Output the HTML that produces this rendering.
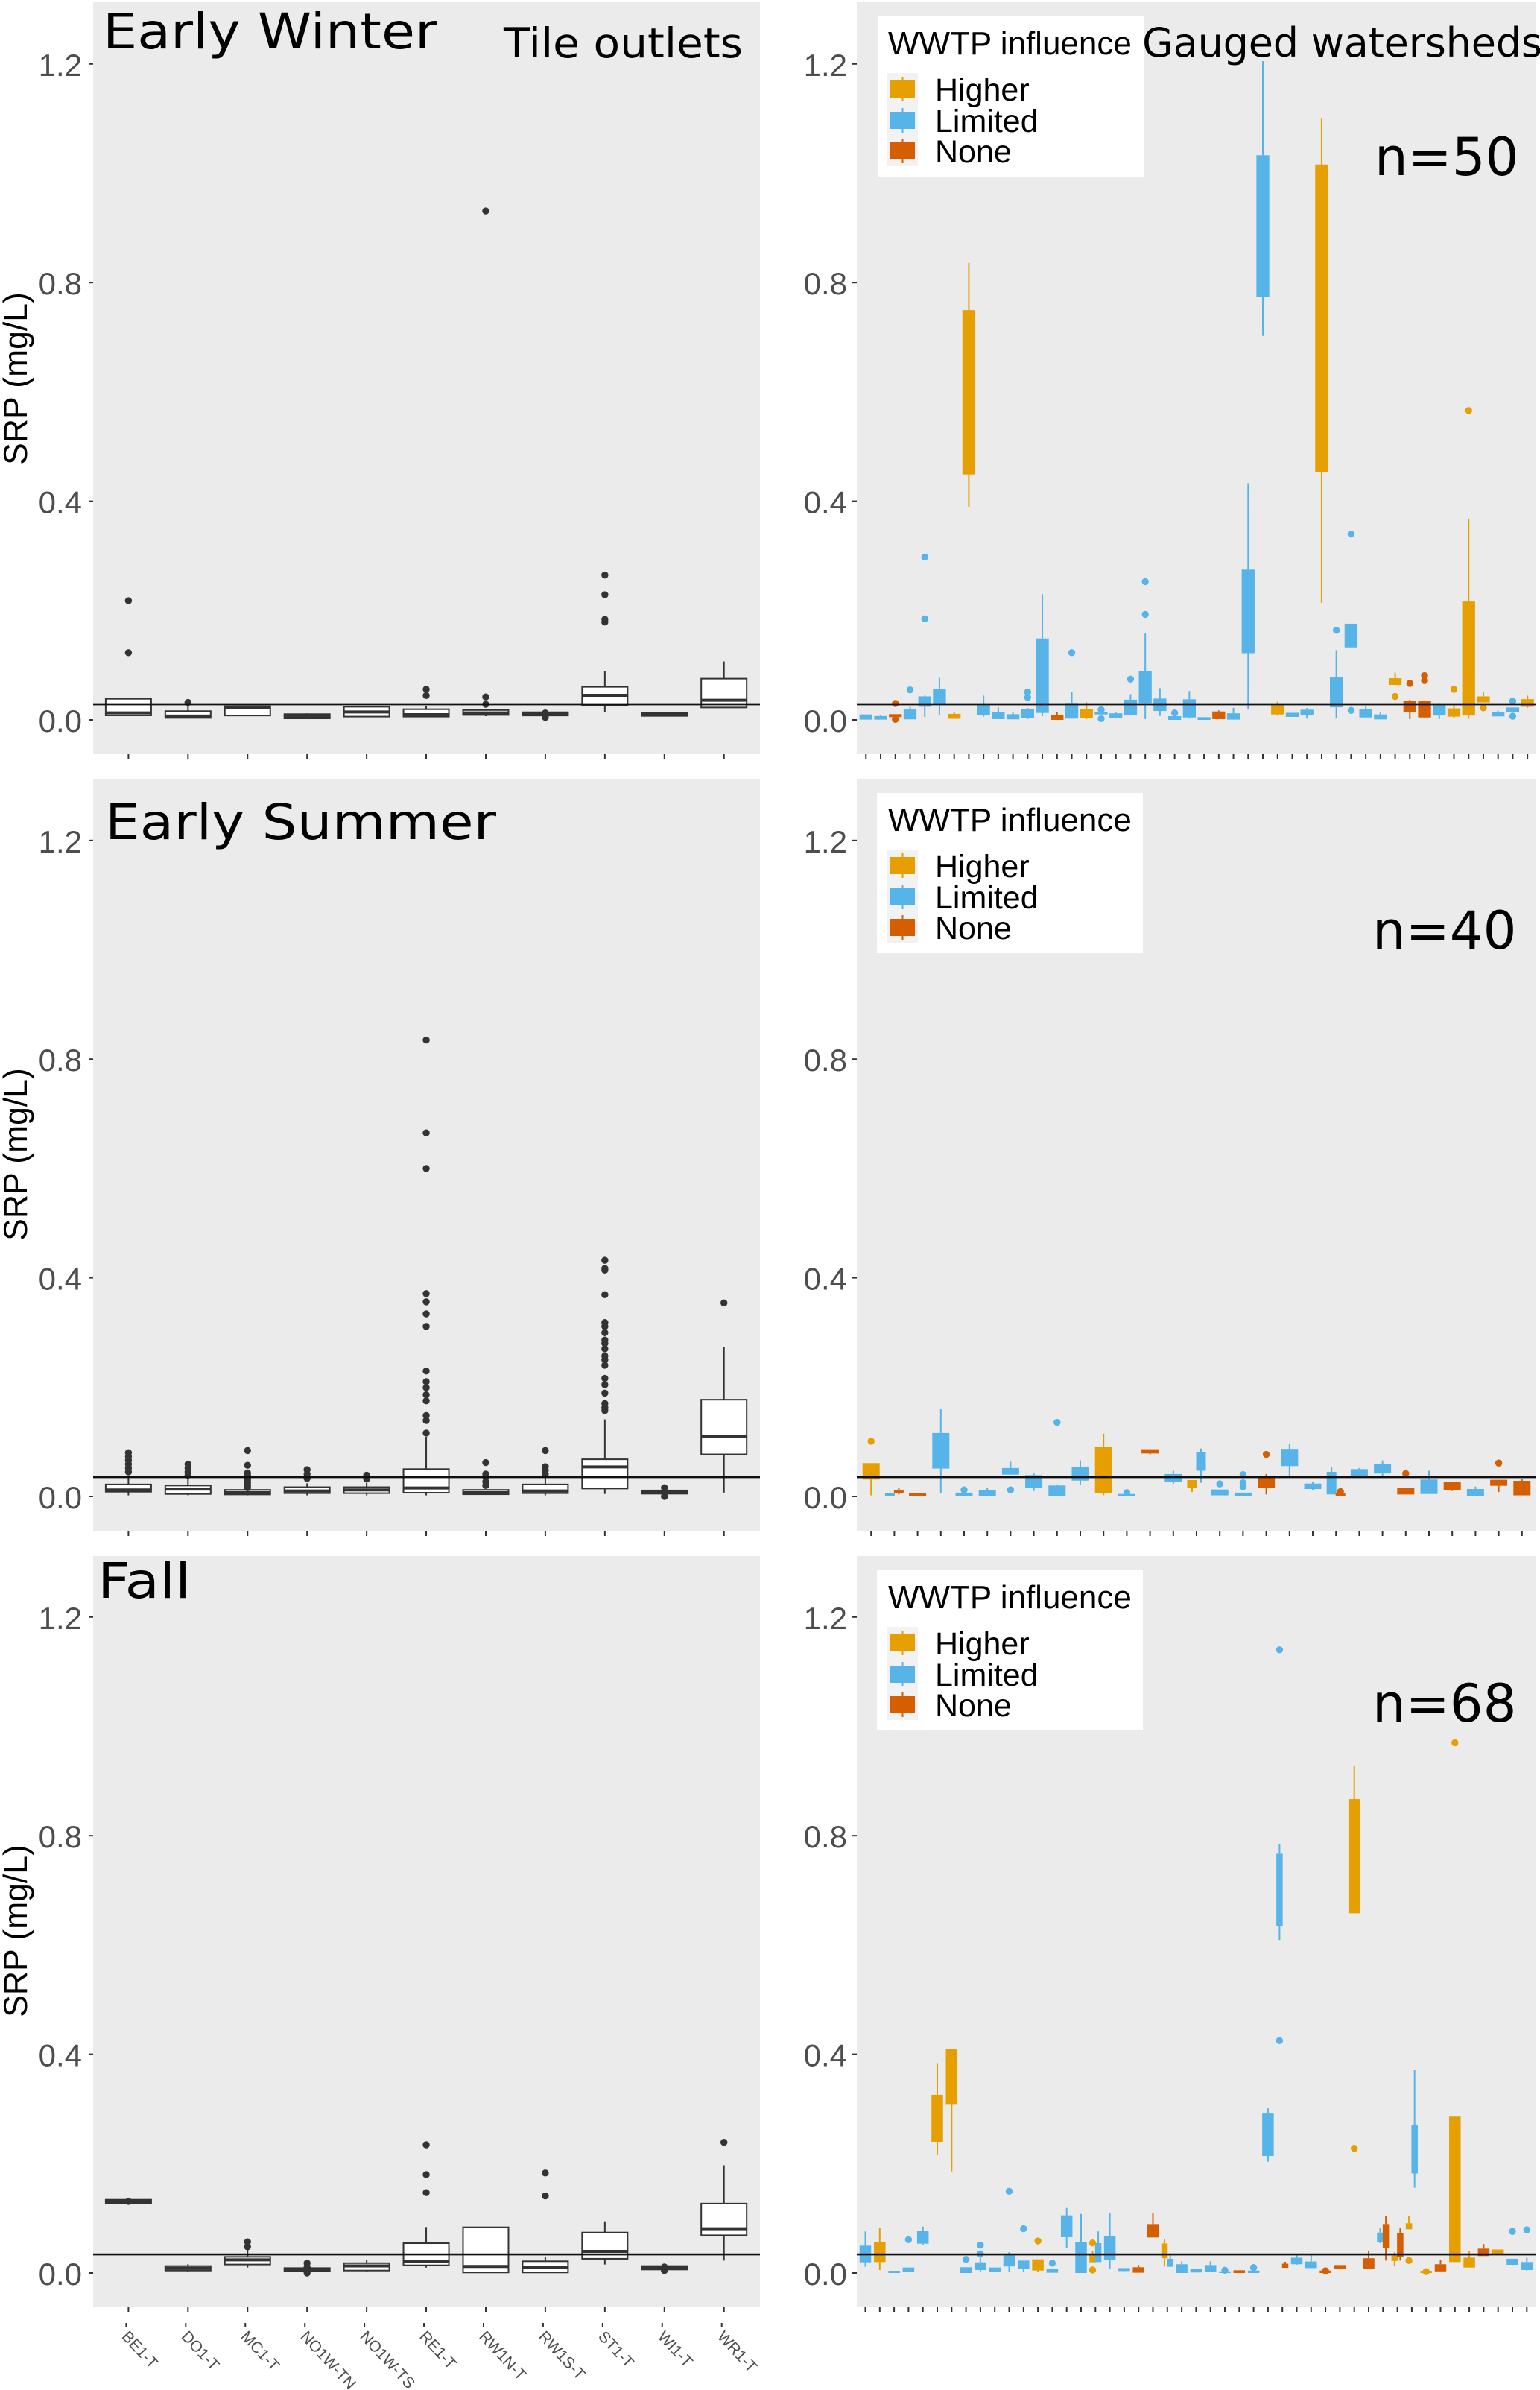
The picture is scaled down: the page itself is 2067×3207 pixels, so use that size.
<!DOCTYPE html>
<html lang="en">
<head>
<meta charset="utf-8">
<title>SRP boxplots by season</title>
<style>
html,body{margin:0;padding:0;background:#fff;}
svg{display:block;}
.tick-label{font-family:"Liberation Sans",sans-serif;font-size:42px;fill:#4d4d4d;}
.axis-title{font-family:"Liberation Sans",sans-serif;font-size:44.5px;fill:#000;}
.big{font-family:"DejaVu Sans",sans-serif;fill:#000;}
.leg{font-family:"Liberation Sans",sans-serif;font-size:43px;fill:#000;}
.leg-title{font-family:"Liberation Sans",sans-serif;font-size:44px;fill:#000;}
.site{font-family:"Liberation Sans",sans-serif;font-size:21px;fill:#4d4d4d;}
</style>
</head>
<body>
<svg id="chart" xmlns="http://www.w3.org/2000/svg" width="2067" height="3207" viewBox="0 0 2067 3207">
  <rect x="0" y="0" width="2067" height="3207" fill="#fff"/>
  <rect x="125" y="3" width="895" height="1009" fill="#ebebeb"/>
  <rect x="1150" y="3" width="912" height="1009" fill="#ebebeb"/>
  <rect x="125" y="1045" width="895" height="1009" fill="#ebebeb"/>
  <rect x="1150" y="1045" width="912" height="1009" fill="#ebebeb"/>
  <rect x="125" y="2088" width="895" height="1008" fill="#ebebeb"/>
  <rect x="1150" y="2088" width="912" height="1008" fill="#ebebeb"/>

  <g id="marks"></g>

  <text class="axis-title" transform="translate(36,508) rotate(-90)" text-anchor="middle">SRP (mg/L)</text>
  <text class="axis-title" transform="translate(36,1549) rotate(-90)" text-anchor="middle">SRP (mg/L)</text>
  <text class="axis-title" transform="translate(36,2591) rotate(-90)" text-anchor="middle">SRP (mg/L)</text>

  <text class="big" x="138" y="65" font-size="66" textLength="449" lengthAdjust="spacingAndGlyphs">Early Winter</text>
  <text class="big" x="676" y="77" font-size="55" textLength="321" lengthAdjust="spacingAndGlyphs">Tile outlets</text>
  <text class="big" x="141" y="1126" font-size="66" textLength="525" lengthAdjust="spacingAndGlyphs">Early Summer</text>
  <text class="big" x="131" y="2144" font-size="66" textLength="125" lengthAdjust="spacingAndGlyphs">Fall</text>

  <g transform="translate(0,3)">
    <rect x="1178" y="19" width="357" height="215" fill="#fff"/>
    <text class="leg-title" x="1192" y="70">WWTP influence</text>
    <rect x="1191" y="95" width="41" height="125" fill="#f2f2f2"/>
    <path d="M1211.500 100V133" stroke="#E69F00" stroke-width="2"/>
    <rect x="1195" y="105" width="33" height="23" fill="#E69F00"/>
    <text class="leg" x="1255" y="132">Higher</text>
    <path d="M1211.500 142V175" stroke="#56B4E9" stroke-width="2"/>
    <rect x="1195" y="147" width="33" height="23" fill="#56B4E9"/>
    <text class="leg" x="1255" y="174">Limited</text>
    <path d="M1211.500 183V216" stroke="#D55E00" stroke-width="2"/>
    <rect x="1195" y="188" width="33" height="23" fill="#D55E00"/>
    <text class="leg" x="1255" y="215">None</text>
  </g>
  <g transform="translate(0,1045)">
    <rect x="1177" y="19" width="357" height="215" fill="#fff"/>
    <text class="leg-title" x="1192" y="70">WWTP influence</text>
    <rect x="1191" y="95" width="41" height="125" fill="#f2f2f2"/>
    <path d="M1211.500 100V133" stroke="#E69F00" stroke-width="2"/>
    <rect x="1195" y="105" width="33" height="23" fill="#E69F00"/>
    <text class="leg" x="1255" y="132">Higher</text>
    <path d="M1211.500 142V175" stroke="#56B4E9" stroke-width="2"/>
    <rect x="1195" y="147" width="33" height="23" fill="#56B4E9"/>
    <text class="leg" x="1255" y="174">Limited</text>
    <path d="M1211.500 183V216" stroke="#D55E00" stroke-width="2"/>
    <rect x="1195" y="188" width="33" height="23" fill="#D55E00"/>
    <text class="leg" x="1255" y="215">None</text>
  </g>
  <g transform="translate(0,2088)">
    <rect x="1177" y="19" width="357" height="215" fill="#fff"/>
    <text class="leg-title" x="1192" y="70">WWTP influence</text>
    <rect x="1191" y="95" width="41" height="125" fill="#f2f2f2"/>
    <path d="M1211.500 100V133" stroke="#E69F00" stroke-width="2"/>
    <rect x="1195" y="105" width="33" height="23" fill="#E69F00"/>
    <text class="leg" x="1255" y="132">Higher</text>
    <path d="M1211.500 142V175" stroke="#56B4E9" stroke-width="2"/>
    <rect x="1195" y="147" width="33" height="23" fill="#56B4E9"/>
    <text class="leg" x="1255" y="174">Limited</text>
    <path d="M1211.500 183V216" stroke="#D55E00" stroke-width="2"/>
    <rect x="1195" y="188" width="33" height="23" fill="#D55E00"/>
    <text class="leg" x="1255" y="215">None</text>
  </g>

  <text class="big" x="1533" y="76" font-size="54" textLength="537" lengthAdjust="spacing">Gauged watersheds</text>
  <text class="big" x="1845" y="235" font-size="70.500">n=50</text>
  <text class="big" x="1842" y="1273" font-size="70.500">n=40</text>
  <text class="big" x="1842" y="2310" font-size="70.500">n=68</text>
</svg>

<script>
const n = null;

// shared axis data
const yTickValues = [0, 0.4, 0.8, 1.2];
const siteNames = ["BE1-T","DO1-T","MC1-T","NO1W-TN","NO1W-TS","RE1-T","RW1N-T","RW1S-T","ST1-T","WI1-T","WR1-T"];
const thresholds = [0.0286, 0.0354, 0.034];

// Tile outlets, Early Winter
const tileWinterQ1  = [.0082,.0036,.008,.0027,.006,.006,.009,.008,.026,.0073,.0227];
const tileWinterMed = [.0127,.007,.0227,.0064,.0145,.0095,.0127,.011,.045,.01,.036];
const tileWinterQ3  = [.0386,.016,.025,.0105,.024,.0195,.018,.014,.0605,.013,.0755];
const tileWinterLo  = [n,n,.0075,.0018,n,n,.0068,n,.015,n,n];
const tileWinterHi  = [n,.0245,n,.012,n,.025,.0205,n,.09,n,.107];
const tileWinterOut = [[0,.123],[0,.218],[1,.032],[5,.056],[5,.0445],[6,.042],[6,.0286],[6,.931],[7,.0127],[7,.0045],[8,.265],[8,.229],[8,.184],[8,.179]];

// Tile outlets, Early Summer
const tileSummerQ1  = [.0086,.0045,.0036,.006,.006,.0068,.004,.006,.0145,.005,.077];
const tileSummerMed = [.012,.0135,.007,.01,.012,.0155,.007,.01,.054,.008,.11];
const tileSummerQ3  = [.022,.02,.012,.017,.017,.05,.012,.022,.068,.011,.177];
const tileSummerLo  = [.002,.002,.002,.002,.002,.002,n,.002,.0045,n,.007];
const tileSummerHi  = [.036,.036,n,.024,.025,.109,n,.039,.141,n,.273];
const tileSummerOut = [[0,.045],[0,.052],[0,.059],[0,.066],[0,.073],[0,.08],[1,.039],[1,.045],[1,.052],[1,.059],
  [2,.084],[2,.057],[2,.043],[2,.039],[2,.034],[2,.03],[2,.025],[2,.02],[2,.016],[3,.049],[3,.041],[3,.033],[4,.039],[4,.032],
  [5,.835],[5,.665],[5,.6],[5,.371],[5,.356],[5,.334],[5,.311],[5,.2295],[5,.21],[5,.199],[5,.186],[5,.175],[5,.148],[5,.139],[5,.116],
  [6,.062],[6,.041],[6,.036],[6,.027],[6,.02],[7,.084],[7,.0545],[7,.048],[7,.041],
  [8,.432],[8,.417],[8,.414],[8,.369],[8,.318],[8,.311],[8,.2995],[8,.286],[8,.28],[8,.27],[8,.257],[8,.25],[8,.24],[8,.216],[8,.2045],[8,.189],[8,.17],[8,.163],[8,.157],
  [9,.016],[9,.0],[10,.354]];

// Tile outlets, Fall
const tileFallQ1  = [.128,.0045,.0155,.0036,.0045,.014,.001,.001,.026,.0064,.069];
const tileFallMed = [.131,.0085,.024,.0064,.013,.021,.012,.0095,.0395,.0095,.081];
const tileFallQ3  = [.134,.0127,.0295,.009,.018,.0545,.0836,.0214,.074,.0127,.127];
const tileFallLo  = [n,.002,.01,n,.0023,.01,n,n,.0155,n,.0227];
const tileFallHi  = [n,.016,.043,n,.0236,.084,n,.0286,.0945,n,.197];
const tileFallOut = [[0,.131],[2,.057],[2,.048],[3,.018],[3,.011],[3,.0045],[3,0],[5,.2345],[5,.18],[5,.147],[7,.183],[7,.141],[9,.011],[9,.0045],[10,.239]];

// Gauged watersheds, Early Winter
const gaugedWinterTick = [0,1,2,3,4,5,6,7,8,9,10,11,12,13,14,15,16,17,18,19,20,21,22,23,24,25,26,27,28,29,30,31,32,33,34,35,36,37,38,39,40,41,42,43,44,45];
const gaugedWinterGroup = "L L N L L L H H L L L L L N L H L L L L L L L L N L L L H L L H L L L L H N N L H H H L L H".split(" ");
const gaugedWinterQ1 = [.0005,.0005,.005,.001,.024,.0286,.002,.449,.0095,.0014,.001,.0036,.0127,0,.0023,.0027,.01,.004,.0086,.031,.0163,0,.0045,0,.0014,.0005,.122,.774,.01,.0055,.0086,.454,.023,.1326,.0045,.0009,.064,.0136,.0045,.008,.006,.008,.032,.0064,.015,.024];
const gaugedWinterQ3 = [.010,.007,.0105,.019,.043,.056,.011,.7496,.027,.015,.0104,.0195,.149,.009,.031,.0204,.014,.012,.037,.09,.039,.0068,.0377,.005,.0154,.012,.275,1.033,.027,.013,.0186,1.016,.0777,.176,.0195,.01,.0763,.0354,.0345,.0286,.021,.2166,.043,.0145,.0227,.038];
const gaugedWinterLo = [n,n,.001,n,.0055,.009,n,.39,.006,n,n,.0014,.0068,n,n,.0014,n,.003,n,.0014,.0073,n,.0023,n,n,n,.019,.7025,.0073,n,.0023,.214,.0023,n,.0036,n,n,.0014,.0036,.0014,.0036,.0023,n,n,n,.022];
const gaugedWinterHi = [n,.009,n,.024,.0445,.077,.0136,.836,.0445,.0227,.015,.0218,.23,.0136,.051,.032,n,.0136,.047,.158,.058,n,.0527,n,.0173,.022,.433,1.205,.033,n,.0218,1.10,.1276,n,.026,.0136,.0863,.0368,n,.031,.027,.368,.051,.017,n,.0445];
const gaugedWinterOut = [[2,"N",.03],[2,"N",.001],[3,"L",.055],[4,"L",.298],[4,"L",.185],[11,"L",.051],[11,"L",.041],[14,"L",.123],[16,"L",.0186],[16,"L",.0023],[18,"L",.0745],[19,"L",.253],[19,"L",.193],[21,"L",.0127],[32,"L",.164],[33,"L",.34],[33,"L",.0173],[36,"H",.043],[37,"N",.0668],[38,"N",.081],[38,"N",.072],[40,"H",.056],[41,"H",.566],[42,"H",.022],[44,"L",.0345],[44,"L",.0068]];

// Gauged watersheds, Early Summer
const gaugedSummerTick = [0,1,1,2,3,4,5,6,7,8,9,10,11,12,13,14,14,15,16,17,18,19,20,20,21,22,23,24,25,26,27,28];
const gaugedSummerGroup = "H L N N L L L L L L L H L N L H L L L N L L L N L L N L N L N N".split(" ");
const gaugedSummerQ1 = [.031,0,.006,0,.051,0,.001,.04,.016,.0014,.029,.0055,0,.0786,.026,.016,.047,.002,0,.015,.0555,.0136,.0036,0,.0355,.042,.0036,.0045,.012,.001,.0195,.002];
const gaugedSummerQ3 = [.061,.0055,.012,.006,.116,.007,.0114,.052,.039,.02,.0536,.09,.0045,.0864,.041,.03,.081,.0127,.007,.035,.087,.0236,.045,.006,.05,.06,.016,.031,.027,.0136,.0305,.0286];
const gaugedSummerLo = [.002,n,.0036,n,.006,n,n,n,.01,n,.021,.002,n,.077,.023,.008,.025,n,n,.0036,.037,.0114,n,n,.0336,.036,n,n,.01,n,.008,n];
const gaugedSummerHi = [n,n,.015,n,.16,n,.015,.0636,.042,.022,.066,.115,n,n,.047,n,.0877,n,n,.041,.0955,.026,.0545,n,.052,.066,n,.047,n,.018,n,.032];
const gaugedSummerOut = [[0,"H",.101],[4,"L",.012],[6,"L",.012],[8,"L",.1355],[11,"L",.007],[15,"L",.023],[16,"L",.04],[16,"L",.025],[16,"L",.018],[17,"N",.077],[20,"N",.009],[23,"N",.042],[27,"N",.061]];

// Gauged watersheds, Fall
const gaugedFallTick = [0,1,2,3,4,5,6,7,8,9,10,11,12,13,14,15,16,16,17,18,19,20,21,21,22,23,24,25,26,27,28,29,29,30,31,32,33,34,35,36,36,37,37,38,38,39,40,41,42,43,44,45,46];
const gaugedFallGroup = "L H L L L H H L L L L L H L L L H L L L N N H L L L L L N L L L N L L N N H N L N H N H L H N H H N H L L".split(" ");
const gaugedFallQ1 = [.0195,.02,0,.002,.0536,.24,.309,0,.0055,.002,.012,.008,.0045,.0005,.0655,0,.0195,.02,.0236,.0036,.0005,.065,.027,.0114,0,.001,.002,0,0,0,.214,.634,.0095,.016,.009,0,.008,.658,.007,.057,.046,.022,.029,.08,.182,0,.003,.02,.01,.031,.033,.015,.0055];
const gaugedFallQ3 = [.05,.057,.004,.01,.0777,.326,.41,.0105,.0195,.01,.032,.0227,.025,.008,.1055,.056,.034,.0545,.068,.009,.0105,.0895,.054,.026,.016,.007,.0145,.003,.005,.0045,.293,.767,.017,.028,.021,.0045,.0145,.867,.027,.074,.0895,.032,.0727,.091,.27,.004,.016,.286,.028,.0445,.043,.026,.02];
const gaugedFallLo = [.0114,.0055,n,n,.051,.216,.186,n,.002,n,.002,.002,.002,n,.045,n,n,n,.007,.003,n,n,.012,n,n,n,n,n,n,n,.2036,.609,n,.015,n,n,n,n,n,.0545,.0227,.0136,.0227,n,.156,n,n,n,n,n,n,.0145,.0045];
const gaugedFallHi = [.076,.082,n,n,.085,.384,n,n,.0295,n,.038,n,n,n,.119,.108,.0395,.076,.11,n,.0145,.109,.062,.036,.0214,n,.0214,n,n,n,.301,.784,.0205,.034,.034,n,n,.927,.041,.083,.1045,.038,.082,.1036,.372,n,.024,n,.0395,.053,n,n,.028];
const gaugedFallOut = [[3,"L",.061],[7,"L",.025],[8,"L",.051],[8,"L",.035],[10,"L",.1495],[11,"L",.081],[12,"H",.0586],[13,"L",.018],[16,"H",.055],[16,"H",.0055],[25,"L",.005],[27,"L",.01],[29,"L",1.14],[29,"L",.425],[32,"N",.004],[34,"H",.228],[38,"H",.0227],[39,"H",.0025],[41,"H",.97],[45,"L",.076],[46,"L",.079]];

const groupColor = {H:"#E69F00", L:"#56B4E9", N:"#D55E00"};
const groupName = {H:"higher", L:"limited", N:"none"};

const NS = "http://www.w3.org/2000/svg";
const root = document.getElementById("marks");
const UNIT = 733.5;
const TILE_START = 172.4;
const TILE_STEP = 79.93;
const TILE_LEFT = 125;
const TILE_RIGHT = 1020;
const GAUGED_LEFT = 1150;
const GAUGED_RIGHT = 2062;

function shape(tag, attrs){
  const e = document.createElementNS(NS, tag);
  for (const k in attrs) e.setAttribute(k, attrs[k]);
  root.appendChild(e);
  return e;
}
function line(x1, y1, x2, y2, stroke, w, name){
  const l = shape("line", {x1:x1, y1:y1, x2:x2, y2:y2, stroke:stroke, "stroke-width":w});
  
  
  return l;
}
function dot(x, y, color, r){
  const d = shape("circle", {cx:x, cy:y, r:r, fill:color});
  
  
}
function yAxis(zero){ return v => zero - v * UNIT; }

function drawYAxis(zero, left, labelX, tickLen){
  const y = yAxis(zero);
  yTickValues.forEach(v => {
    line(left - tickLen, y(v), left, y(v), "#333", 2, "y-axis-tick");
    const t = shape("text", {x:labelX, y:y(v) + 16, "text-anchor":"end", "class":"tick-label"});
    
    
    t.textContent = v.toFixed(1);
  });
}

function drawTile(zero, bottom, q1, med, q3, lo, hi, out, threshold){
  const y = yAxis(zero);
  const x = i => TILE_START + TILE_STEP * i;
  drawYAxis(zero, TILE_LEFT, 110, 5);
  siteNames.forEach((s, i) => {
    line(x(i), bottom, x(i), bottom + 7, "#333", 2, "x-axis-tick");
    if (hi[i] !== null) line(x(i), y(q3[i]), x(i), y(hi[i]), "#333", 2, "whisker-upper");
    if (lo[i] !== null) line(x(i), y(q1[i]), x(i), y(lo[i]), "#333", 2, "whisker-lower");
    const h = Math.max(y(q1[i]) - y(q3[i]), 1);
    const b = shape("rect", {x:x(i) - 30.5, y:y(q3[i]), width:61, height:h, fill:"#fff", stroke:"#333", "stroke-width":2});
    
    
    line(x(i) - 30.5, y(med[i]), x(i) + 30.5, y(med[i]), "#333", 4, "median-line");
  });
  out.forEach(p => dot(x(p[0]), y(p[1]), "#333", 4.7));
  line(TILE_LEFT, y(threshold), TILE_RIGHT, y(threshold), "#111", 2.7, "threshold-line");
}

function drawGauged(zero, bottom, start, step, boxW, dodgeW, dodgeOff, ticks, tick, group, q1, q3, lo, hi, out, threshold){
  const y = yAxis(zero);
  const x = i => start + step * i;
  drawYAxis(zero, GAUGED_LEFT, 1137, 6);
  for (let i = 0; i < ticks; i++) line(x(i), bottom, x(i), bottom + 7, "#333", 2, "x-axis-tick");
  const center = j => {
    const shared = tick.filter(t => t === tick[j]).length;
    if (shared < 2) return x(tick[j]);
    const first = tick.indexOf(tick[j]);
    return x(tick[j]) + (j === first ? -dodgeOff : dodgeOff);
  };
  const width = j => tick.filter(t => t === tick[j]).length > 1 ? dodgeW : boxW;
  tick.forEach((t, j) => {
    const c = groupColor[group[j]];
    const cx = center(j);
    if (hi[j] !== null) line(cx, y(q3[j]), cx, y(hi[j]), c, 2, "whisker-upper");
    if (lo[j] !== null) line(cx, y(q1[j]), cx, y(lo[j]), c, 2, "whisker-lower");
    const w = width(j);
    const h = Math.max(y(q1[j]) - y(q3[j]), 1);
    const b = shape("rect", {x:cx - w / 2, y:y(q3[j]), width:w, height:h, fill:c});
    
    
  });
  out.forEach(p => {
    let j = tick.findIndex((t, k) => t === p[0] && group[k] === p[1]);
    if (j < 0) j = tick.indexOf(p[0]);
    dot(center(j), y(p[2]), groupColor[p[1]], 4.7);
  });
  line(GAUGED_LEFT, y(threshold), GAUGED_RIGHT, y(threshold), "#111", 2.7, "threshold-line");
}

drawTile(966, 1012, tileWinterQ1, tileWinterMed, tileWinterQ3, tileWinterLo, tileWinterHi, tileWinterOut, thresholds[0]);
drawTile(2008, 2054, tileSummerQ1, tileSummerMed, tileSummerQ3, tileSummerLo, tileSummerHi, tileSummerOut, thresholds[1]);
drawTile(3050, 3096, tileFallQ1, tileFallMed, tileFallQ3, tileFallLo, tileFallHi, tileFallOut, thresholds[2]);

drawGauged(966, 1012, 1162.3, 19.73, 17.3, 9, 4, 46, gaugedWinterTick, gaugedWinterGroup, gaugedWinterQ1, gaugedWinterQ3, gaugedWinterLo, gaugedWinterHi, gaugedWinterOut, thresholds[0]);
drawGauged(2008, 2054, 1169.2, 31.2, 23, 13, 6, 29, gaugedSummerTick, gaugedSummerGroup, gaugedSummerQ1, gaugedSummerQ3, gaugedSummerLo, gaugedSummerHi, gaugedSummerOut, thresholds[1]);
drawGauged(3050, 3096, 1161.5, 19.3, 15.5, 8.5, 3.8, 47, gaugedFallTick, gaugedFallGroup, gaugedFallQ1, gaugedFallQ3, gaugedFallLo, gaugedFallHi, gaugedFallOut, thresholds[2]);

// site labels beneath the last tile panel, with their secondary tick row
siteNames.forEach((s, i) => {
  const tx = TILE_START + TILE_STEP * i;
  line(tx - 3, 3117, tx - 3, 3122, "#333", 2, "site-label-tick");
  const t = shape("text", {"class":"site", transform:"translate(" + (tx - 10) + ",3136) rotate(47)"});
  
  
  t.textContent = s;
});
</script>
</body>
</html>
